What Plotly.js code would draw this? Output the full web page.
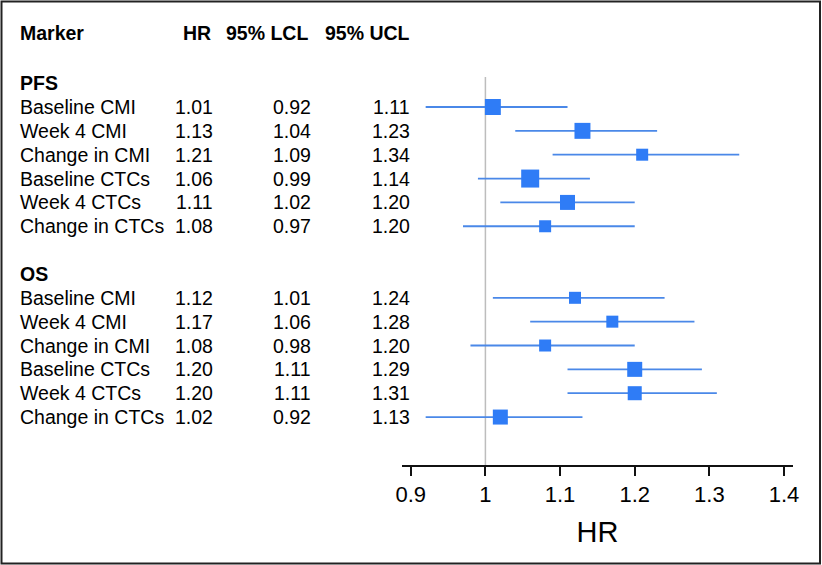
<!DOCTYPE html>
<html>
<head>
<meta charset="utf-8">
<script src="https://cdn.plot.ly/plotly-3.0.1.min.js"></script>
<style>
  body { margin: 0; background: #fff; }
  #forest { width: 822px; height: 565px; }
</style>
</head>
<body>
<div id="forest"></div>
<script>
// Forest plot: hazard ratios with 95% CI for PFS and OS
var markers = ['Baseline CMI', 'Week 4 CMI', 'Change in CMI', 'Baseline CTCs', 'Week 4 CTCs', 'Change in CTCs'];

var pfsHR = [1.01, 1.13, 1.21, 1.06, 1.11, 1.08];
var pfsLCL = [0.92, 1.04, 1.09, 0.99, 1.02, 0.97];
var pfsUCL = [1.11, 1.23, 1.34, 1.14, 1.20, 1.20];
var pfsWeight = [1.33, 1.33, 1.0, 1.5, 1.25, 1.0];

var osHR = [1.12, 1.17, 1.08, 1.20, 1.20, 1.02];
var osLCL = [1.01, 1.06, 0.98, 1.11, 1.11, 0.92];
var osUCL = [1.24, 1.28, 1.20, 1.29, 1.31, 1.13];
var osWeight = [1.0, 1.0, 1.0, 1.25, 1.17, 1.25];

var xTicks = [0.9, 1, 1.1, 1.2, 1.3, 1.4];

// row positions (PFS heading = 0, OS heading = 8)
var pfsRows = [1, 2, 3, 4, 5, 6];
var osRows = [9, 10, 11, 12, 13, 14];

var FONT = 'Liberation Sans, Arial, Helvetica, sans-serif';
var lineColor = '#4a88e8';
var boxColor = '#2f7cf6';

// paper coordinates: plot area spans pixels 0..793 horizontally, 77..465 vertically
function px(x) { return x / 793; }
function py(y) { return (465 - y) / 388; }

function forestTrace(hr, lcl, ucl, w, rows) {
    return {
        x: hr,
        y: rows,
        type: 'scatter',
        mode: 'markers',
        marker: {
            symbol: 'square',
            color: boxColor,
            opacity: 1,
            size: w.map(function (v) { return v * 12; }),
            line: { width: 0 }
        },
        error_x: {
            type: 'data',
            symmetric: false,
            array: ucl.map(function (u, i) { return u - hr[i]; }),
            arrayminus: lcl.map(function (l, i) { return hr[i] - l; }),
            color: lineColor,
            thickness: 1.8,
            width: 0
        },
        hoverinfo: 'skip',
        showlegend: false
    };
}

var data = [
    forestTrace(pfsHR, pfsLCL, pfsUCL, pfsWeight, pfsRows),
    forestTrace(osHR, osLCL, osUCL, osWeight, osRows)
];

var annotations = [];
function addText(text, x, y, anchor, bold, yref) {
    annotations.push({
        text: bold ? '<b>' + text + '</b>' : text,
        x: px(x), xref: 'paper', xanchor: anchor,
        y: y, yref: yref || 'y', yanchor: 'middle',
        showarrow: false,
        font: { family: FONT, size: 19.5, color: '#000' }
    });
}

// header
addText('Marker', 18, py(33), 'left', true, 'paper');
addText('HR', 213, py(33), 'right', true, 'paper');
addText('95% LCL', 310, py(33), 'right', true, 'paper');
addText('95% UCL', 412, py(33), 'right', true, 'paper');
addText('PFS', 18, 0, 'left', true);
addText('OS', 18, 8, 'left', true);

function addRows(hr, lcl, ucl, rows) {
    markers.forEach(function (m, i) {
        addText(m, 18, rows[i], 'left', false);
        addText(hr[i].toFixed(2), 215, rows[i], 'right', false);
        addText(lcl[i].toFixed(2), 313, rows[i], 'right', false);
        addText(ucl[i].toFixed(2), 412, rows[i], 'right', false);
    });
}
addRows(pfsHR, pfsLCL, pfsUCL, pfsRows);
addRows(osHR, osLCL, osUCL, osRows);

var layout = {
    width: 822,
    height: 565,
    margin: { l: 0, r: 29, t: 77, b: 100 },
    paper_bgcolor: '#fff',
    plot_bgcolor: 'rgba(0,0,0,0)',
    font: { family: FONT, color: '#000' },
    xaxis: {
        domain: [402 / 793, 1],
        range: [0.8883, 1.412],
        tickvals: xTicks,
        ticktext: xTicks.map(String),
        showline: true,
        linecolor: '#111',
        linewidth: 2,
        ticks: 'outside',
        ticklen: 9,
        tickwidth: 2,
        tickcolor: '#111',
        showgrid: false,
        zeroline: false,
        tickfont: { family: FONT, size: 22, color: '#000' },
        title: { text: 'HR', font: { family: FONT, size: 29, color: '#000' }, standoff: 15 }
    },
    yaxis: {
        range: [16.01, -0.258],
        visible: false,
        fixedrange: true
    },
    shapes: [
        {
            type: 'line', xref: 'x', yref: 'paper',
            x0: 1, x1: 1, y0: 0, y1: 1,
            line: { color: '#bdbdbd', width: 1.5 },
            layer: 'below'
        },
        {
            type: 'rect', xref: 'paper', yref: 'paper',
            x0: px(1.5), x1: px(820), y0: py(563.5), y1: py(1.5),
            line: { color: '#222', width: 2 },
            fillcolor: 'rgba(0,0,0,0)'
        }
    ],
    annotations: annotations
};

var config = { staticPlot: true, displayModeBar: false };

Plotly.newPlot('forest', data, layout, config);
</script>
</body>
</html>
